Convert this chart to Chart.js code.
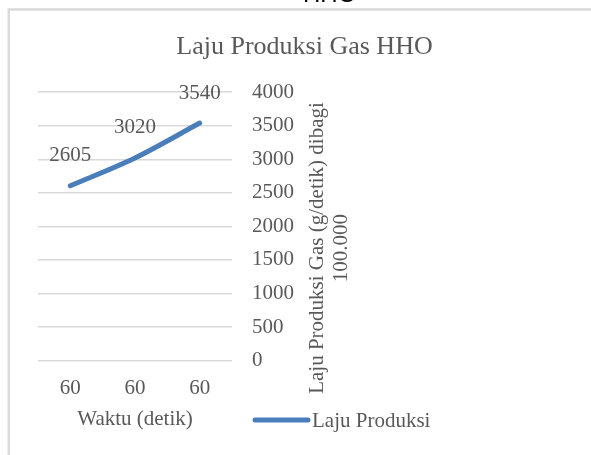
<!DOCTYPE html>
<html>
<head>
<meta charset="utf-8">
<script src="https://cdn.jsdelivr.net/npm/chart.js@4.4.1/dist/chart.umd.min.js"></script>
<style>
    html, body { margin: 0; padding: 0; background: #ffffff; }
    #chart-line { display: block; }
</style>
</head>
<body>
<canvas id="chart-line" width="591" height="455"></canvas>
<script>
const waktu = ['60', '60', '60'];
const laju_produksi = [2605, 3020, 3540];
const y_min = 0;
const y_max = 4000;
const y_step = 500;

const judul = 'Laju Produksi Gas HHO';
const judul_atas = 'HHO';
const judul_x = 'Waktu (detik)';
const judul_y = ['Laju Produksi Gas (g/detik) dibagi', '100.000'];
const nama_seri = 'Laju Produksi';

const serif = "'Liberation Serif', 'Times New Roman', serif";
const abu = '#595959';
const biru = '#4a7ebb';

// bingkai + sisa teks di atas
const bingkai = {
    id: 'bingkai',
    beforeDraw(chart) {
        let ctx = chart.ctx;
        ctx.save();
        ctx.strokeStyle = '#d9d9d9';
        ctx.lineWidth = 2.3;
        ctx.beginPath();
        ctx.moveTo(8.7, 455);
        ctx.lineTo(8.7, 9.5);
        ctx.lineTo(591, 9.5);
        ctx.stroke();
        ctx.fillStyle = '#000000';
        ctx.font = "24px 'Liberation Sans', Arial, sans-serif";
        ctx.textBaseline = 'alphabetic';
        ctx.textAlign = 'left';
        ctx.fillText(judul_atas, 303, 2);
        ctx.restore();
    }
};

// label nilai di atas titik
const label_nilai = {
    id: 'label_nilai',
    afterDatasetsDraw(chart) {
        let ctx = chart.ctx;
        let meta = chart.getDatasetMeta(0);
        ctx.save();
        ctx.fillStyle = abu;
        ctx.font = '21px ' + serif;
        ctx.textAlign = 'center';
        ctx.textBaseline = 'middle';
        meta.data.forEach(function (titik, i) {
            ctx.fillText(String(chart.data.datasets[0].data[i]), titik.x, titik.y - 30);
        });
        ctx.restore();
    }
};

// judul sumbu y (kanan, dibaca dari bawah) dan legenda
const judul_legenda = {
    id: 'judul_legenda',
    afterDraw(chart) {
        let ctx = chart.ctx;
        let area = chart.chartArea;
        ctx.save();
        ctx.fillStyle = abu;
        ctx.font = '21px ' + serif;
        ctx.textAlign = 'center';
        ctx.textBaseline = 'middle';
        ctx.translate(area.right + 85, 248);
        ctx.rotate(-Math.PI / 2);
        judul_y.forEach(function (baris, i) {
            ctx.fillText(baris, 0, i * 24);
        });
        ctx.restore();

        let ds = chart.data.datasets[0];
        ctx.save();
        ctx.strokeStyle = ds.borderColor;
        ctx.lineWidth = 5;
        ctx.lineCap = 'round';
        ctx.beginPath();
        ctx.moveTo(255, 420);
        ctx.lineTo(308, 420);
        ctx.stroke();
        ctx.fillStyle = abu;
        ctx.font = '21px ' + serif;
        ctx.textAlign = 'left';
        ctx.textBaseline = 'middle';
        ctx.fillText(ds.label, 312, 421);
        ctx.restore();
    }
};

(function () {
    const data = {
        labels: waktu,
        datasets: [{
            label: nama_seri,
            data: laju_produksi,
            fill: false,
            borderColor: biru,
            borderWidth: 5,
            borderCapStyle: 'round',
            pointRadius: 0,
            tension: 0.3
        }]
    };

    new Chart(
        document.getElementById('chart-line'),
        {
            type: 'line',
            data: data,
            plugins: [bingkai, label_nilai, judul_legenda],
            options: {
                responsive: false,
                animation: false,
                devicePixelRatio: 1,
                layout: {
                    padding: { left: 38, right: 20, top: 0, bottom: 23 }
                },
                plugins: {
                    legend: { display: false },
                    tooltip: { enabled: false },
                    title: {
                        display: true,
                        text: judul,
                        color: abu,
                        font: { family: serif, size: 26, weight: 'normal' },
                        padding: { top: 32, bottom: 29 }
                    }
                },
                scales: {
                    x: {
                        offset: true,
                        grid: { display: false, drawTicks: false },
                        border: { display: false },
                        ticks: {
                            color: abu,
                            padding: 15,
                            font: { family: serif, size: 21 }
                        },
                        title: {
                            display: true,
                            text: judul_x,
                            color: abu,
                            font: { family: serif, size: 21 },
                            padding: { top: -9, bottom: 0 }
                        }
                    },
                    y: {
                        position: 'right',
                        min: y_min,
                        max: y_max,
                        grid: { color: '#d9d9d9', lineWidth: 1.5, drawTicks: false },
                        border: { display: false },
                        ticks: {
                            stepSize: y_step,
                            color: abu,
                            padding: 20,
                            font: { family: serif, size: 21 },
                            callback: function (v) { return String(v); }
                        },
                        afterFit: function (scale) {
                            scale.width = 591 - 20 - 232;
                        }
                    }
                }
            }
        }
    );
})();
</script>
</body>
</html>
